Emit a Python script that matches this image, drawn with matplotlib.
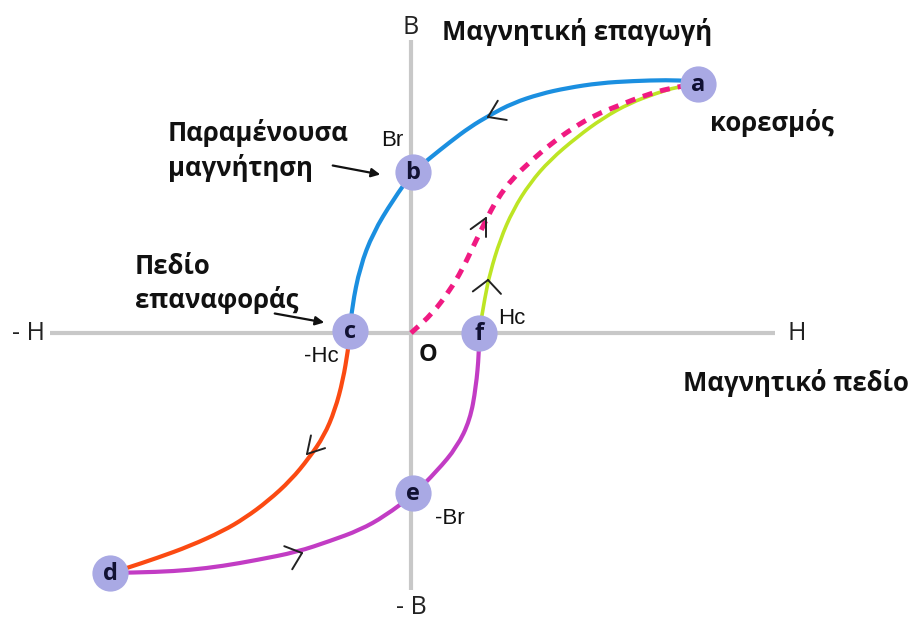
import matplotlib
matplotlib.use("Agg")
import matplotlib.pyplot as plt
from matplotlib.path import Path
from matplotlib.patches import PathPatch
import numpy as np

plt.rcParams['font.family'] = ['Open Sans', 'DejaVu Sans']

# Hysteresis loop, H (field) and B (induction) in drawing units
blue_H = [287, 279, 256, 222, 189, 156, 129, 102, 79, 59, 39, 19, 2, -18, -38, -51, -59, -61]
blue_B = [250, 252, 253, 252, 250, 245, 239, 230, 218, 206, 191, 175, 161, 133, 100, 66, 26, 0]

orange_H = [-61, -63, -68, -76, -87, -102, -120, -143, -166, -188, -221, -254, -284, -301]
orange_B = [0, -17, -47, -77, -103, -125, -147, -168, -185, -198, -213, -225, -235, -240]

purple_H = [-301, -254, -221, -188, -154, -114, -81, -51, -26, 2, 26, 46, 59, 65, 68, 68]
purple_B = [-240, -239, -237, -233, -227, -219, -208, -197, -183, -162, -138, -114, -87, -54, -20, 0]

green_H = [68, 74, 79, 89, 102, 119, 139, 166, 192, 219, 246, 266, 287]
green_B = [0, 36, 60, 93, 123, 150, 173, 196, 215, 230, 240, 246, 249]

# initial magnetisation curve O -> a
init_H = [0, 22, 39, 51, 62, 74, 86, 102, 121, 141, 162, 184, 209, 232, 259, 287]
init_B = [0, 20, 43, 63, 86, 111, 134, 155, 173, 190, 205, 218, 228, 237, 245, 249]

# marked points
pt_names = ['a', 'b', 'c', 'd', 'e', 'f']
pt_H = [287, 2, -61, -301, 2, 68]
pt_B = [249, 161, 2, -240, -160, 0]

# direction chevrons: tip H, tip B, heading (deg), half-opening (deg)
chev_H = [77, -104, -109, 77, 75]
chev_B = [216, -121, -220, 53, 115]
chev_dir = [205, 228, 19, 85, 63]
chev_open = [34, 30, 40, 48, 27]


def smooth_path(xs, ys):
    # quadratic bezier through segment midpoints, read points act as control points
    p = np.column_stack([xs, ys]).astype(float)
    mids = (p[:-1] + p[1:]) / 2
    verts = [p[0], mids[0]]
    codes = [Path.MOVETO, Path.LINETO]
    for i in range(1, len(p) - 1):
        verts += [p[i], mids[i]]
        codes += [Path.CURVE3, Path.CURVE3]
    verts.append(p[-1])
    codes.append(Path.LINETO)
    return Path(verts, codes)


def curve(xs, ys, **kw):
    ax.add_patch(PathPatch(smooth_path(xs, ys), fill=False, capstyle='round', **kw))


fig = plt.figure(figsize=(9.14, 6.24), dpi=100)
ax = fig.add_axes([0, 0, 1, 1])
ax.set_xlim(-411, 503)
ax.set_ylim(-291, 333)
ax.axis('off')

# axes
ax.plot([-361, 364], [0, 0], color='#c8c8c8', lw=3, zorder=1, solid_capstyle='butt')
ax.plot([0, 0], [293, -257], color='#c8c8c8', lw=3, zorder=1, solid_capstyle='butt')

curve(blue_H, blue_B, edgecolor='#1b8fe0', lw=3, zorder=3)
curve(orange_H, orange_B, edgecolor='#fb4a12', lw=3, zorder=3)
curve(purple_H, purple_B, edgecolor='#c23cc4', lw=3, zorder=3)
curve(green_H, green_B, edgecolor='#bde524', lw=2.6, zorder=3)
ax.add_patch(PathPatch(smooth_path(init_H, init_B), fill=False, edgecolor='#f01a82',
                       lw=3.6, zorder=3, linestyle=(0, (2.0, 1.6))))

# chevrons
L = 19
for h, b, d, o in zip(chev_H, chev_B, chev_dir, chev_open):
    back = np.radians(d + 180)
    for s in (-1, 1):
        ang = back + s * np.radians(o)
        ax.plot([h, h + L * np.cos(ang)], [b, b + L * np.sin(ang)],
                color='#222222', lw=1.4, zorder=4, solid_capstyle='round')

ax.scatter(pt_H, pt_B, s=680, color='#a9a9e4', zorder=5, linewidths=0)
for n, h, b in zip(pt_names, pt_H, pt_B):
    ax.text(h, b - 1, n, ha='center', va='center', fontsize=17,
            fontweight='bold', color='#111133', zorder=6)

# axis labels
ax.text(0, 305, 'B', ha='center', va='center', fontsize=18, color='#222222')
ax.text(0, -275, '- B', ha='center', va='center', fontsize=18, color='#222222')
ax.text(-383, 0, '- H', ha='center', va='center', fontsize=18, color='#222222')
ax.text(386, 0, 'H', ha='center', va='center', fontsize=18, color='#222222')

# descriptive labels
bold = dict(fontsize=18.5, fontweight='bold', color='#111111')
ax.text(31, 301, 'Μαγνητική επαγωγή', ha='left', va='center', **bold)
ax.text(299, 210, 'κορεσμός', ha='left', va='center', **bold)
ax.text(-243, 200, 'Παραμένουσα', ha='left', va='center', **bold)
ax.text(-243, 165, 'μαγνήτηση', ha='left', va='center', **bold)
ax.text(-276, 66, 'Πεδίο', ha='left', va='center', **bold)
ax.text(-276, 33, 'επαναφοράς', ha='left', va='center', **bold)
ax.text(272, -50, 'Μαγνητικό πεδίο', ha='left', va='center', **bold)

small = dict(fontsize=16, color='#111111', family=['Liberation Sans', 'DejaVu Sans'])
ax.text(-19, 193, 'Br', ha='center', va='center', **small)
ax.text(-90, -23, '-Hc', ha='center', va='center', **small)
ax.text(101, 15, 'Hc', ha='center', va='center', **small)
ax.text(39, -186, '-Br', ha='center', va='center', **small)
ax.text(17, -22, 'O', ha='center', va='center', fontsize=17, fontweight='bold', color='#111111')

# pointer arrows
arrow = dict(arrowstyle='-|>', color='#111111', lw=1.6, mutation_scale=13)
ax.annotate('', xy=(-28, 158), xytext=(-81, 168), arrowprops=arrow, zorder=4)
ax.annotate('', xy=(-84, 10), xytext=(-139, 20), arrowprops=arrow, zorder=4)

fig.savefig('out.png', dpi=100)
